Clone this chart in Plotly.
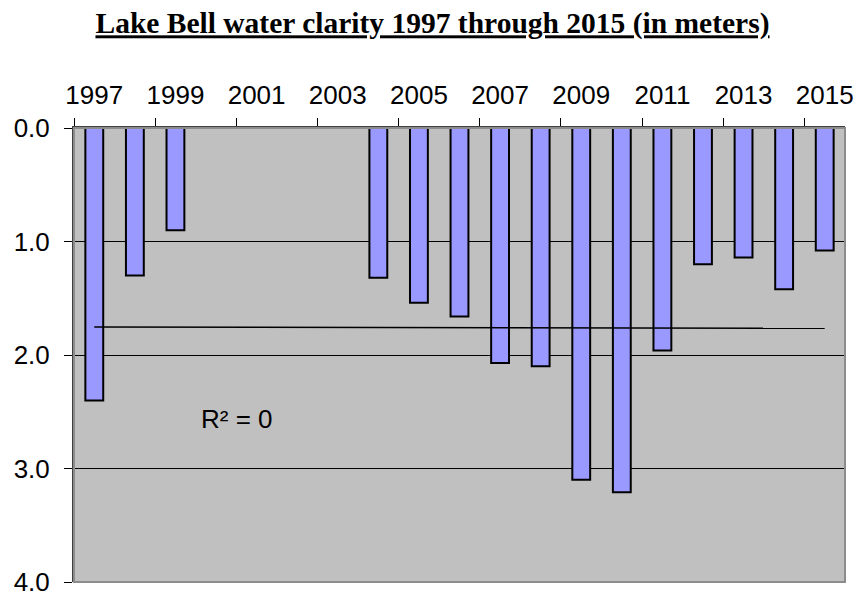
import numpy as np
import plotly.graph_objects as go

years = [str(y) for y in range(1997, 2016)]
clarity = [2.40, 1.30, 0.90, None, None, None, None, 1.32, 1.54, 1.66,
           2.07, 2.10, 3.10, 3.21, 1.96, 1.20, 1.14, 1.42, 1.08]
y_ticks = [0, 1, 2, 3, 4]
title_text = "Lake Bell water clarity 1997 through 2015 (in meters)"
r2_label = "R² = 0"

# linear trendline fitted to the available values
idx = np.array([i for i, v in enumerate(clarity) if v is not None], dtype=float)
vals = np.array([v for v in clarity if v is not None], dtype=float)
slope, intercept = np.polyfit(idx, vals, 1)
trend_x = [years[0], years[-1]]
trend_y = [intercept, intercept + slope * (len(years) - 1)]

W, H = 856, 584  # page body has an 8px margin

fig = go.Figure()
fig.add_trace(go.Bar(
    x=years, y=clarity,
    marker=dict(color="#9999FF", line=dict(color="#000000", width=2)),
    showlegend=False,
))
fig.add_trace(go.Scatter(
    x=trend_x, y=trend_y, mode="lines",
    line=dict(color="#000000", width=1.5), showlegend=False,
))

fig.update_layout(
    width=W, height=H,
    margin=dict(l=66, r=19, t=120, b=10, autoexpand=False),
    paper_bgcolor="#FFFFFF",
    plot_bgcolor="#C0C0C0",
    bargap=0.56,
    title=dict(
        text="<b><u>" + title_text + "</u></b>",
        font=dict(family="Liberation Serif", size=29.5, color="#000000"),
        x=(432.5 - 8) / W, xanchor="center", xref="container",
        y=1 - 15 / H, yanchor="middle", yref="container",
    ),
    xaxis=dict(
        type="category", side="top",
        tickmode="linear", tick0=0, dtick=2,
        tickson="boundaries", tickangle=0,
        ticks="outside", ticklen=8, tickwidth=1, tickcolor="#000000",
        ticklabelstandoff=12,
        showgrid=False, automargin=False,
        showline=True, linecolor="#404040", linewidth=2,
        tickfont=dict(family="Liberation Sans", size=26, color="#000000"),
        range=[-0.5, len(years) - 0.5],
        fixedrange=True,
    ),
    yaxis=dict(
        range=[4, 0],
        tickvals=y_ticks, tickformat=".1f",
        ticks="outside", ticklen=8, tickwidth=1, tickcolor="#000000",
        ticklabelstandoff=9, ticklabeloverflow="allow",
        showgrid=True, gridcolor="#000000", gridwidth=1,
        zeroline=False, automargin=False,
        showline=True, linecolor="#404040", linewidth=2,
        tickfont=dict(family="Liberation Sans", size=26, color="#000000"),
        fixedrange=True,
    ),
    shapes=[dict(type="rect", xref="paper", yref="paper", x0=0, x1=1, y0=0, y1=1,
                 line=dict(color="#8C8C8C", width=2), fillcolor="rgba(0,0,0,0)",
                 layer="above")],
    annotations=[dict(
        text=r2_label, xref="paper", yref="y", x=(237 - 74) / 771, y=2.56,
        showarrow=False, xanchor="center", yanchor="middle",
        font=dict(family="Liberation Sans", size=26, color="#000000"),
    )],
)

fig.write_html("out.html")
